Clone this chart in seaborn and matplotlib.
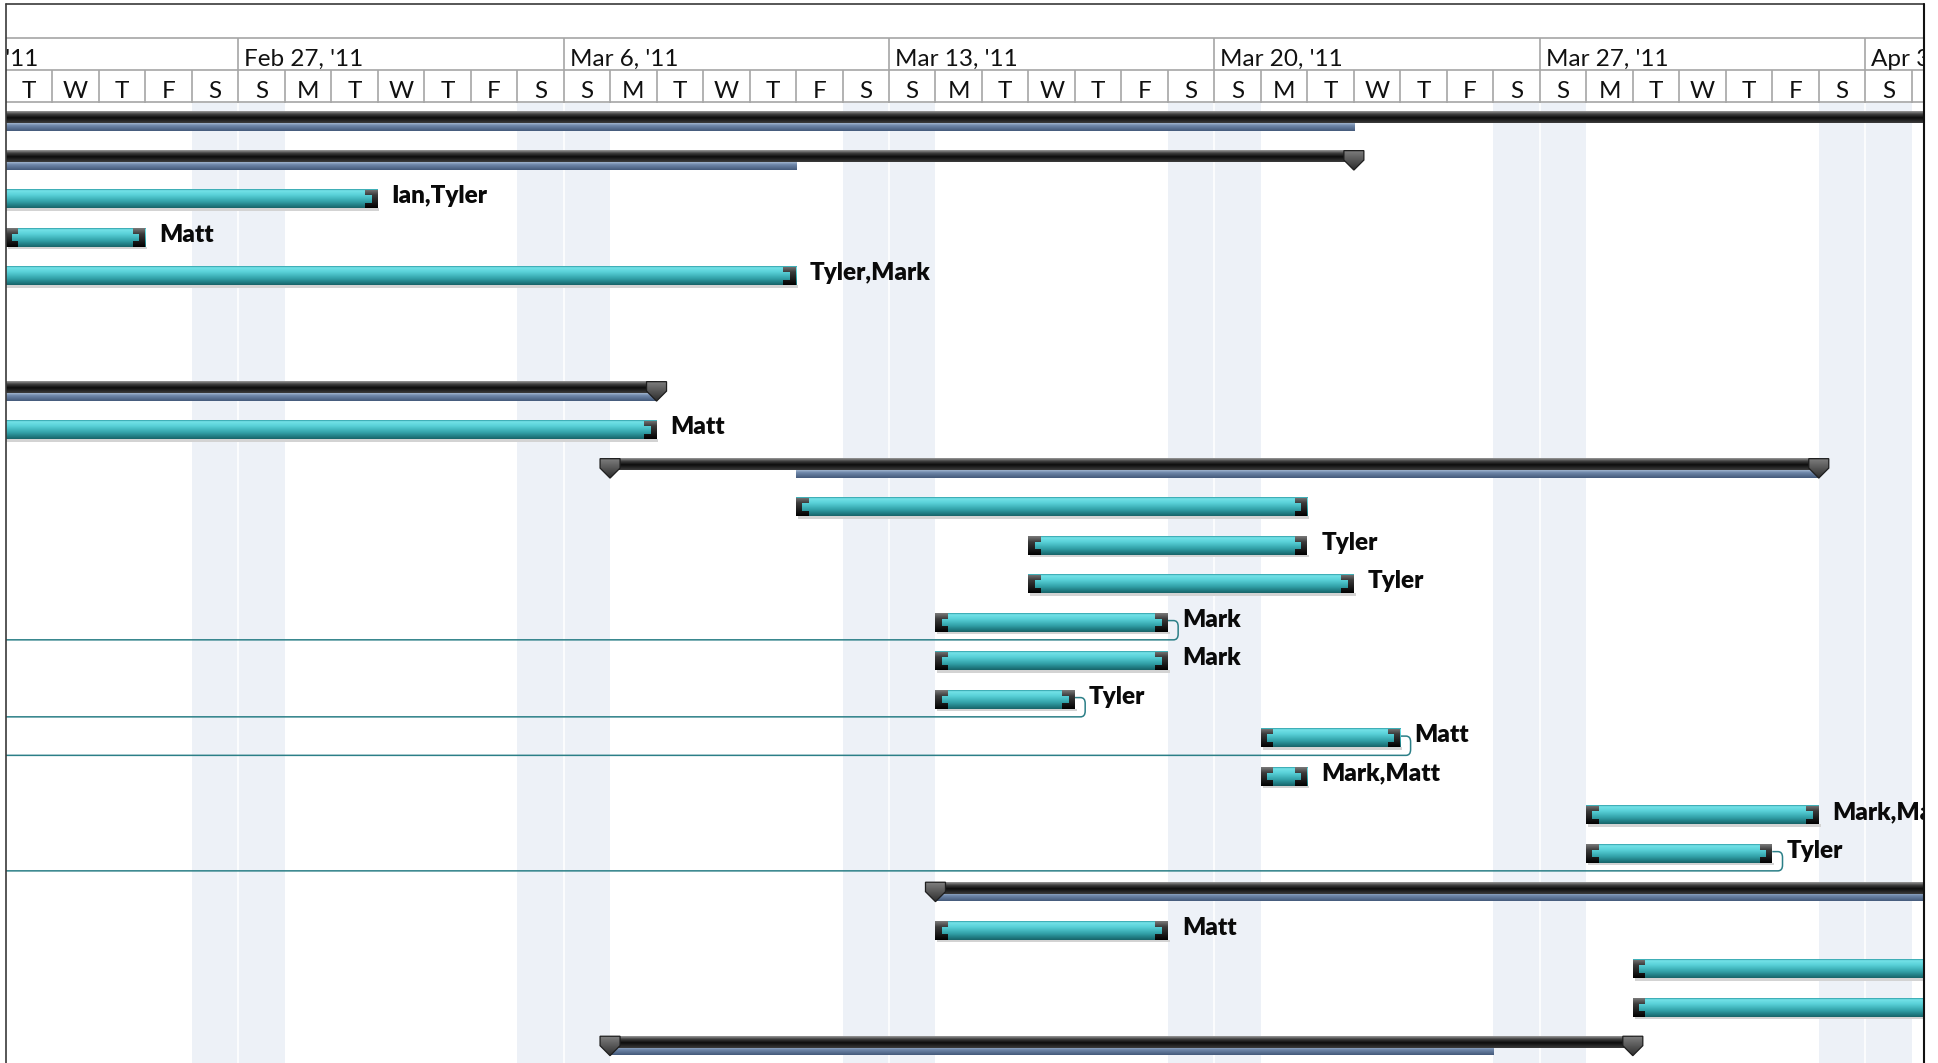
import numpy as np
import pandas as pd
import matplotlib
matplotlib.use("Agg")
import matplotlib.pyplot as plt
import matplotlib.dates as mdates
import seaborn as sns
from matplotlib.patches import Polygon, Rectangle, PathPatch
from matplotlib.path import Path
from matplotlib.colors import LinearSegmentedColormap
from matplotlib.lines import Line2D

# ---------------- data ----------------
task_row = [2, 3, 4, 8, 10, 11, 12, 13, 14, 15, 16, 17, 18, 19, 21, 22, 23]
task_start = ["2011-02-16", "2011-02-22", "2011-02-16", "2011-02-16", "2011-03-11",
              "2011-03-16", "2011-03-16", "2011-03-14", "2011-03-14", "2011-03-14",
              "2011-03-21", "2011-03-21", "2011-03-28", "2011-03-28", "2011-03-14",
              "2011-03-29", "2011-03-29"]
task_end = ["2011-03-02", "2011-02-25", "2011-03-11", "2011-03-08", "2011-03-22",
            "2011-03-22", "2011-03-23", "2011-03-19", "2011-03-19", "2011-03-17",
            "2011-03-24", "2011-03-22", "2011-04-02", "2011-04-01", "2011-03-19",
            "2011-04-08", "2011-04-08"]
task_label = ["Ian,Tyler", "Matt", "Tyler,Mark", "Matt", "", "Tyler", "Tyler", "Mark",
              "Mark", "Tyler", "Matt", "Mark,Matt", "Mark,Matt", "Tyler", "Matt", "", ""]
link_rows = [13, 15, 16, 19]

sum_row = [0, 1, 7, 9, 20, 24]
sum_start = ["2011-02-14", "2011-02-14", "2011-02-14", "2011-03-07", "2011-03-14", "2011-03-07"]
sum_end = ["2011-04-15", "2011-03-23", "2011-03-08", "2011-04-02", "2011-04-15", "2011-03-29"]
base_start = ["2011-02-14", "2011-02-14", "2011-02-14", "2011-03-11", "2011-03-14", "2011-03-07"]
base_end = ["2011-03-23", "2011-03-11", "2011-03-08", "2011-04-02", "2011-04-15", "2011-03-26"]

week_starts = ["2011-02-20", "2011-02-27", "2011-03-06", "2011-03-13",
               "2011-03-20", "2011-03-27", "2011-04-03"]
week_labels = ["Feb 20, '11", "Feb 27, '11", "Mar 6, '11", "Mar 13, '11",
               "Mar 20, '11", "Mar 27, '11", "Apr 3, '11"]
day_letters = ["M", "T", "W", "T", "F", "S", "S"]   # Monday .. Sunday

view_start = "2011-02-22"
view_days = 41.27

# ---------------- style ----------------
sns.set_theme(style="white")
plt.rcParams['font.family'] = ['Lato', 'DejaVu Sans']

W, H = 1938, 1063
fig = plt.figure(figsize=(W / 100, H / 100), dpi=100)
fig.patch.set_facecolor("white")

L_PX, R_PX = 5.7, 1924.3
TOP_PX, HB_PX = 4.0, 102.7
ax = fig.add_axes([L_PX / W, 0, (R_PX - L_PX) / W, 1 - HB_PX / H])
axh = fig.add_axes([L_PX / W, 1 - HB_PX / H, (R_PX - L_PX) / W, (HB_PX - TOP_PX) / H])

d2n = lambda s: mdates.date2num(pd.Timestamp(s))
x0 = d2n(view_start)
x1 = x0 + view_days

# weekend shading
shade = "#EDF1F7"
for k in range(-1, int(view_days) + 2):
    d = x0 + k
    wd = pd.Timestamp(mdates.num2date(d).date()).weekday()
    if wd in (5, 6):
        ax.axvspan(d, d + 1, color=shade, lw=0, zorder=0)
    if wd == 6:
        ax.axvline(d, color="white", lw=1.2, zorder=0.5)

# ---------------- task bars via seaborn ----------------
df = pd.DataFrame({"row": task_row,
                   "start": [d2n(s) for s in task_start],
                   "end": [d2n(s) for s in task_end],
                   "label": task_label})
df["dur"] = df["end"] - df["start"]
df = df.sort_values("row").reset_index(drop=True)
BAR_W = 0.475
n_before = len(ax.patches)
sns.barplot(data=df, x="dur", y="row", orient="y", native_scale=True,
            left=df["start"].to_numpy(), width=BAR_W, color="#3FBCC4",
            saturation=1, errorbar=None, linewidth=0, zorder=3, ax=ax)
bars = ax.patches[n_before:]

teal = LinearSegmentedColormap.from_list("teal", [
    (0.0, "#2a9aa2"), (0.07, "#74e2e8"), (0.3, "#5ad2d9"),
    (0.65, "#33a3aa"), (0.9, "#1d767c"), (1.0, "#186469")])
capc = LinearSegmentedColormap.from_list("cap", [
    (0.0, "#7a7a7a"), (0.3, "#3c3c3c"), (1.0, "#000000")])
blk = LinearSegmentedColormap.from_list("blk", [
    (0.0, "#9a9a9a"), (0.25, "#404040"), (0.55, "#0c0c0c"), (1.0, "#3c3c3c")])
blu = LinearSegmentedColormap.from_list("blu", [
    (0.0, "#a2b5cf"), (0.3, "#7089ab"), (1.0, "#44597a")])
mkc = LinearSegmentedColormap.from_list("mk", [
    (0.0, "#808080"), (1.0, "#2c2c2c")])
grad = np.linspace(0, 1, 64).reshape(-1, 1)


def grad_fill(xa, xb, ytop, ybot, cmap, z, clip=None):
    im = ax.imshow(grad, cmap=cmap, extent=(xa, xb, ybot, ytop), origin="upper",
                   aspect="auto", interpolation="bilinear", zorder=z)
    if clip is not None:
        im.set_clip_path(clip)
    return im


CW, CT, CH = 0.27, 0.13, 0.14
for p, (_, r) in zip(bars, df.iterrows()):
    bx, by, bw, bh = p.get_x(), p.get_y(), p.get_width(), p.get_height()
    c = by + bh / 2
    grad_fill(bx, bx + bw, by, by + bh, teal, 3.1)
    ax.add_patch(Rectangle((bx + 0.04, by + bh), bw, 0.065, color="#d3d3d3", lw=0, zorder=2.5))
    top, bot = by, by + bh
    if bx >= x0 - 1e-6:
        pts = [(bx, top), (bx + CW, top), (bx + CW, top + CH), (bx + CT, top + CH),
               (bx + CT, bot - CH), (bx + CW, bot - CH), (bx + CW, bot), (bx, bot)]
        poly = Polygon(pts, closed=True, transform=ax.transData)
        grad_fill(bx, bx + CW, top, bot, capc, 4, clip=poly)
    e = bx + bw
    if e <= x1:
        pts = [(e, top), (e - CW, top), (e - CW, top + CH), (e - CT, top + CH),
               (e - CT, bot - CH), (e - CW, bot - CH), (e - CW, bot), (e, bot)]
        poly = Polygon(pts, closed=True, transform=ax.transData)
        grad_fill(e - CW, e, top, bot, capc, 4, clip=poly)
    if r["label"]:
        ax.text(e + 0.30, c + 0.11, r["label"], fontsize=17.5, fontweight="heavy",
                color="#0a0a0a", ha="left", va="baseline", zorder=6, clip_on=True)
    if r["row"] in link_rows:
        a, rx, ry = 0.22, 0.1, 0.15
        y0, y1 = c - 0.05, c + 0.45
        verts = [(e, y0), (e + a - rx, y0), (e + a, y0), (e + a, y0 + ry),
                 (e + a, y1 - ry), (e + a, y1), (e + a - rx, y1), (x0 - 2, y1)]
        codes = [Path.MOVETO, Path.LINETO, Path.CURVE3, Path.CURVE3,
                 Path.LINETO, Path.CURVE3, Path.CURVE3, Path.LINETO]
        ax.add_patch(PathPatch(Path(verts, codes), fill=False, edgecolor="#2B7F87",
                               lw=1.1, zorder=1.5))

# ---------------- summary bars ----------------
for r, s, e, bs, be in zip(sum_row, sum_start, sum_end, base_start, base_end):
    s, e, bs, be = d2n(s), d2n(e), d2n(bs), d2n(be)
    grad_fill(s, e, r - 0.25, r + 0.04, blk, 3.2)
    grad_fill(bs, be, r + 0.04, r + 0.24, blu, 3.0)
    hw = 0.215
    for m in (s, e):
        if x0 - 1e-6 <= m <= x1:
            pts = [(m - hw, r - 0.255), (m + hw, r - 0.255), (m + hw, r - 0.01),
                   (m, r + 0.25), (m - hw, r - 0.01)]
            poly = Polygon(pts, closed=True, transform=ax.transData)
            grad_fill(m - hw, m + hw, r - 0.255, r + 0.25, mkc, 4.5, clip=poly)
            ax.add_patch(Polygon(pts, closed=True, fill=False, edgecolor="#1e1e1e",
                                 lw=0.9, zorder=4.6))

ax.set_xlim(x0, x1)
ax.set_ylim(24.44, -0.5)
ax.set_axis_off()

# ---------------- header ----------------
axh.set_xlim(x0, x1)
axh.set_ylim(HB_PX - TOP_PX, 0)
axh.set_axis_off()
gl = "#a6a6a6"
hb = HB_PX - TOP_PX
axh.hlines([33.7, 66.0], x0, x1, color=gl, lw=1.2)
axh.hlines([hb - 0.6], x0, x1, color=gl, lw=1.2, clip_on=False)
for ws, wl in zip(week_starts, week_labels):
    w = d2n(ws)
    axh.vlines(w, 33.7, 66.0, color=gl, lw=1.2)
    axh.text(w + 0.13, 62.3, wl, fontsize=17.5, color="#111111", ha="left",
             va="baseline", clip_on=True)
for k in range(0, int(view_days) + 1):
    d = x0 + k
    wd = pd.Timestamp(mdates.num2date(d).date()).weekday()
    axh.vlines(d + 1, 66.0, hb, color=gl, lw=1.2)
    axh.text(d + 0.5, 93.5, day_letters[wd], fontsize=17.5, color="#111111",
             ha="center", va="baseline", clip_on=True)

# ---------------- borders ----------------
bc = "#3a3a3a"
fig.add_artist(Line2D([L_PX / W, R_PX / W], [1 - TOP_PX / H] * 2, color=bc, lw=1.2,
                      transform=fig.transFigure))
fig.add_artist(Line2D([L_PX / W] * 2, [0, 1 - TOP_PX / H], color=bc, lw=1.2,
                      transform=fig.transFigure))
fig.add_artist(Line2D([R_PX / W] * 2, [0, 1 - TOP_PX / H], color="#111111", lw=1.5,
                      transform=fig.transFigure))

fig.savefig("out.png", dpi=100, facecolor="white")
